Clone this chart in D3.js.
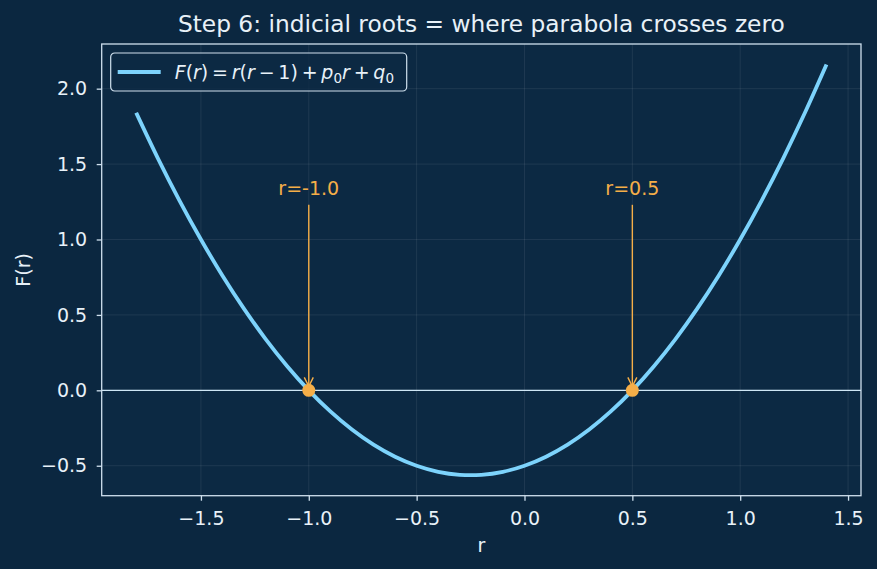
<!DOCTYPE html>
<html>
<head>
<meta charset="utf-8">
<script src="https://cdn.jsdelivr.net/npm/d3@7"></script>
<style>
  body { margin: 0; background: #0b2740; }
  svg { display: block; font-family: 'DejaVu Sans', sans-serif; }
</style>
</head>
<body>
<script>
// ! Data
const rValues = [-1.8, -1.7, -1.6, -1.5, -1.4, -1.3, -1.2, -1.1, -1.0, -0.9, -0.8, -0.7, -0.6, -0.5, -0.4, -0.3, -0.25,
  -0.2, -0.1, 0.0, 0.1, 0.2, 0.3, 0.4, 0.5, 0.6, 0.7, 0.8, 0.9, 1.0, 1.1, 1.2, 1.3, 1.4];
const fValues = [1.84, 1.54, 1.26, 1.0, 0.76, 0.54, 0.34, 0.16, 0.0, -0.14, -0.26, -0.36, -0.44, -0.5, -0.54, -0.56, -0.5625,
  -0.56, -0.54, -0.5, -0.44, -0.36, -0.26, -0.14, 0.0, 0.16, 0.34, 0.54, 0.76, 1.0, 1.26, 1.54, 1.84, 2.16];
const roots = [-1.0, 0.5];
const rootLabels = ['r=-1.0', 'r=0.5'];
const xTicks = [-1.5, -1.0, -0.5, 0.0, 0.5, 1.0, 1.5];
const yTicks = [-0.5, 0.0, 0.5, 1.0, 1.5, 2.0];

// * Sizes and colours
const width = 877;
const height = 569;
const margin = { top: 44, right: 16, bottom: 73.3, left: 101.7 };
const innerWidth = width - margin.left - margin.right;
const innerHeight = height - margin.top - margin.bottom;
const bg = '#0b2740';
const face = '#0c2943';
const ink = '#e8f1f8';
const spine = '#cfe0ee';
const curveColor = '#7dd3fc';
const orange = '#f5ae48';
const tickSize = 19;

const points = rValues.map((r, i) => ({ r, f: fValues[i] }));

// * Scales with matplotlib-like 5% margins
const xExt = d3.extent(rValues);
const yExt = d3.extent(fValues);
const xPad = (xExt[1] - xExt[0]) * 0.05;
const yPad = (yExt[1] - yExt[0]) * 0.05;
const x = d3.scaleLinear().domain([xExt[0] - xPad, xExt[1] + xPad]).range([0, innerWidth]);
const y = d3.scaleLinear().domain([yExt[0] - yPad, yExt[1] + yPad]).range([innerHeight, 0]);

const fmt = (d) => d3.format('.1f')(d).replace('-', '\u2212');

const svg = d3.select('body').append('svg').attr('width', width).attr('height', height);
svg.append('rect').attr('width', width).attr('height', height).attr('fill', bg);

const g = svg.append('g').attr('transform', `translate(${margin.left},${margin.top})`);
g.append('rect').attr('width', innerWidth).attr('height', innerHeight).attr('fill', face);

// ! Grid
g.append('g').selectAll('line').data(xTicks).enter().append('line')
  .attr('x1', (d) => x(d)).attr('x2', (d) => x(d))
  .attr('y1', 0).attr('y2', innerHeight)
  .attr('stroke', '#ffffff').attr('stroke-opacity', 0.09).attr('stroke-width', 0.9);
g.append('g').selectAll('line').data(yTicks).enter().append('line')
  .attr('x1', 0).attr('x2', innerWidth)
  .attr('y1', (d) => y(d)).attr('y2', (d) => y(d))
  .attr('stroke', '#ffffff').attr('stroke-opacity', 0.09).attr('stroke-width', 0.9);

// * zero line
g.append('line')
  .attr('x1', 0).attr('x2', innerWidth)
  .attr('y1', y(0)).attr('y2', y(0))
  .attr('stroke', '#cfe6f5').attr('stroke-width', 1.3);

// ! Curve
const line = d3.line().x((d) => x(d.r)).y((d) => y(d.f)).curve(d3.curveMonotoneX);
g.append('path').datum(points)
  .attr('d', line)
  .attr('fill', 'none')
  .attr('stroke', curveColor)
  .attr('stroke-width', 3.8);

// ! Root annotations
const ann = g.append('g').selectAll('g').data(roots).enter().append('g');
ann.append('line')
  .attr('x1', (d) => x(d)).attr('x2', (d) => x(d))
  .attr('y1', y(1.23)).attr('y2', y(0) - 5)
  .attr('stroke', orange).attr('stroke-width', 1.4);
ann.append('path')
  .attr('d', (d) => `M${x(d) - 4.5},${y(0) - 13} L${x(d)},${y(0) - 4} L${x(d) + 4.5},${y(0) - 13}`)
  .attr('fill', 'none').attr('stroke', orange).attr('stroke-width', 1.4);
ann.append('text')
  .attr('x', (d) => x(d)).attr('y', y(1.3) + 1)
  .attr('text-anchor', 'middle')
  .attr('fill', orange)
  .attr('font-size', tickSize)
  .text((d, i) => rootLabels[i]);
g.append('g').selectAll('circle').data(roots).enter().append('circle')
  .attr('cx', (d) => x(d)).attr('cy', y(0)).attr('r', 6.5)
  .attr('fill', orange);

// ! Spines and axes
g.append('rect').attr('width', innerWidth).attr('height', innerHeight)
  .attr('fill', 'none').attr('stroke', spine).attr('stroke-width', 1.3);

const xAxis = g.append('g').attr('transform', `translate(0,${innerHeight})`)
  .call(d3.axisBottom(x).tickValues(xTicks).tickFormat(fmt).tickSize(5));
const yAxis = g.append('g')
  .call(d3.axisLeft(y).tickValues(yTicks).tickFormat(fmt).tickSize(5));
[xAxis, yAxis].forEach((a) => {
  a.select('.domain').remove();
  a.selectAll('line').attr('stroke', spine).attr('stroke-width', 1.3);
  a.selectAll('text').attr('fill', ink).attr('font-size', tickSize).attr('font-family', 'DejaVu Sans');
});
xAxis.selectAll('text').attr('y', 29.3).attr('dy', 0);
yAxis.selectAll('text').attr('x', -14.5);

// ! Title and labels
svg.append('text')
  .attr('x', margin.left + innerWidth / 2).attr('y', 32)
  .attr('text-anchor', 'middle').attr('fill', ink).attr('font-size', 23.3)
  .text('Step 6: indicial roots = where parabola crosses zero');
svg.append('text')
  .attr('x', margin.left + innerWidth / 2).attr('y', 552)
  .attr('text-anchor', 'middle').attr('fill', ink).attr('font-size', tickSize)
  .text('r');
svg.append('text')
  .attr('transform', `translate(30,${margin.top + innerHeight / 2}) rotate(-90)`)
  .attr('text-anchor', 'middle').attr('fill', ink).attr('font-size', tickSize)
  .text('F(r)');

// ! Legend
const legend = g.append('g').attr('transform', 'translate(9,9)');
legend.append('rect')
  .attr('width', 296).attr('height', 38).attr('rx', 4)
  .attr('fill', face).attr('fill-opacity', 0.8)
  .attr('stroke', spine).attr('stroke-width', 1.2);
legend.append('line')
  .attr('x1', 7).attr('x2', 50).attr('y1', 19).attr('y2', 19)
  .attr('stroke', curveColor).attr('stroke-width', 3.8);
const lt = legend.append('text').attr('x', 64).attr('y', 26)
  .attr('fill', ink).attr('font-size', 19);
const parts = [
  ['F', 'i'], ['(', 'n'], ['r', 'i'], [')\u2009=\u2009', 'n'], ['r', 'i'], ['(', 'n'], ['r', 'i'], ['\u2009\u2212\u20091)\u2009+\u2009', 'n'],
  ['p', 'i'], ['0', 's'], ['r', 'i'], ['\u2009+\u2009', 'n'], ['q', 'i'], ['0', 's'],
];
parts.forEach(([t, k], i) => {
  const ts = lt.append('tspan').text(t);
  if (k === 'i') ts.attr('font-style', 'italic');
  if (k === 's') ts.attr('font-size', 13.5).attr('dy', 3.5);
  else if (i > 0 && parts[i - 1][1] === 's') ts.attr('dy', -3.5);
});
</script>
</body>
</html>
